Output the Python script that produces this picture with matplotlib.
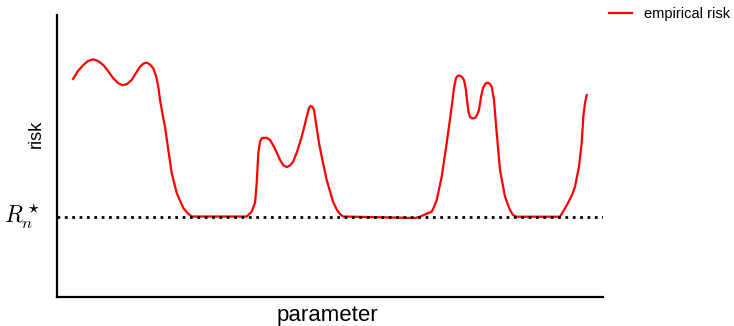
import matplotlib.pyplot as plt
import numpy as np

plt.rcParams['font.family'] = ['Liberation Sans', 'DejaVu Sans']
plt.rcParams['mathtext.fontset'] = 'cm'

# empirical risk curve (x: parameter, y: risk)
param = [16, 21, 26.3, 31, 36.3, 41, 46.3, 51, 56.3, 61, 65.7, 70, 74.7, 79, 83,
         86.5, 89.7, 93, 96.3, 99, 101.3, 103, 106.3, 108, 111.3, 114.7, 119.7,
         126.3, 131, 134.7, 189.7, 194.7, 198, 199.7, 201.3, 203, 205, 209.7,
         213, 216, 220, 223, 226.5, 229.7, 233, 236, 240, 244.7, 248, 249.7,
         252, 253.7, 255.5, 257, 260, 262, 264.7, 269.7, 276, 280, 283, 286,
         358, 363, 369, 374.7, 377, 379.7, 384.7, 389.7, 394.7, 397, 399, 401,
         403, 405, 407, 409, 410, 411.5, 413, 415.5, 418, 420, 422, 424, 426,
         428.5, 431, 433, 434.7, 437, 439.7, 443, 448, 453, 456, 459.7, 503,
         507, 511, 515, 518, 522, 524.7, 526.3, 528, 529.7]
risk = [218, 226, 232, 236, 237.7, 236, 232, 226, 218.7, 214, 211.7, 213, 217,
        224, 230.3, 233.5, 234.3, 232.5, 228.7, 221, 210.3, 197, 178.7, 170.3,
        147, 124, 104, 89, 83.5, 80.5, 80.5, 85.3, 94, 114, 144, 155.3, 159,
        159.3, 157, 152, 144, 137, 131.5, 130, 131.5, 135, 145, 160.3, 173,
        180.3, 189, 191, 190, 187, 167, 154, 140.3, 117, 95.3, 87, 83, 80.5,
        79, 80.3, 83, 85.3, 90, 97, 120.3, 154, 190.3, 209, 219, 221.5, 221.3,
        220, 217, 207, 197, 185, 180, 178.5, 179, 182, 187, 200, 209, 213.5,
        214.3, 213, 210.3, 197, 164, 127, 100.3, 87, 82, 80.3, 80.3, 87, 94,
        102, 110.3, 130.3, 154, 180.3, 194, 202]
r_star = 80.5

fig = plt.figure(figsize=(7.34, 3.26), dpi=100)
ax = fig.add_axes([57/734, 29/326, 546/734, 282/326])

ax.plot(param, risk, color='red', lw=1.6, label='empirical risk')
ax.axhline(r_star, color='black', ls=':', lw=2)

ax.set_xlim(0, 546)
ax.set_ylim(0, 282)
ax.set_xticks([])
ax.set_yticks([])
for s in ['top', 'right']:
    ax.spines[s].set_visible(False)
for s in ['left', 'bottom']:
    ax.spines[s].set_linewidth(1.6)

ax.set_xlabel('parameter', fontsize=16)
ax.xaxis.set_label_coords(0.495, -0.028)
ax.set_ylabel('risk', fontsize=13)
ax.yaxis.set_label_coords(-0.022, 0.578)
ax.text(-0.03, r_star, r'$R_n^\star$', transform=ax.get_yaxis_transform(),
        ha='right', va='center', fontsize=17)

fig.legend(loc='upper right', bbox_to_anchor=(1.012, 1.02), frameon=False,
           fontsize=10.5, handlelength=1.6)

fig.savefig('out.png', dpi=100)
